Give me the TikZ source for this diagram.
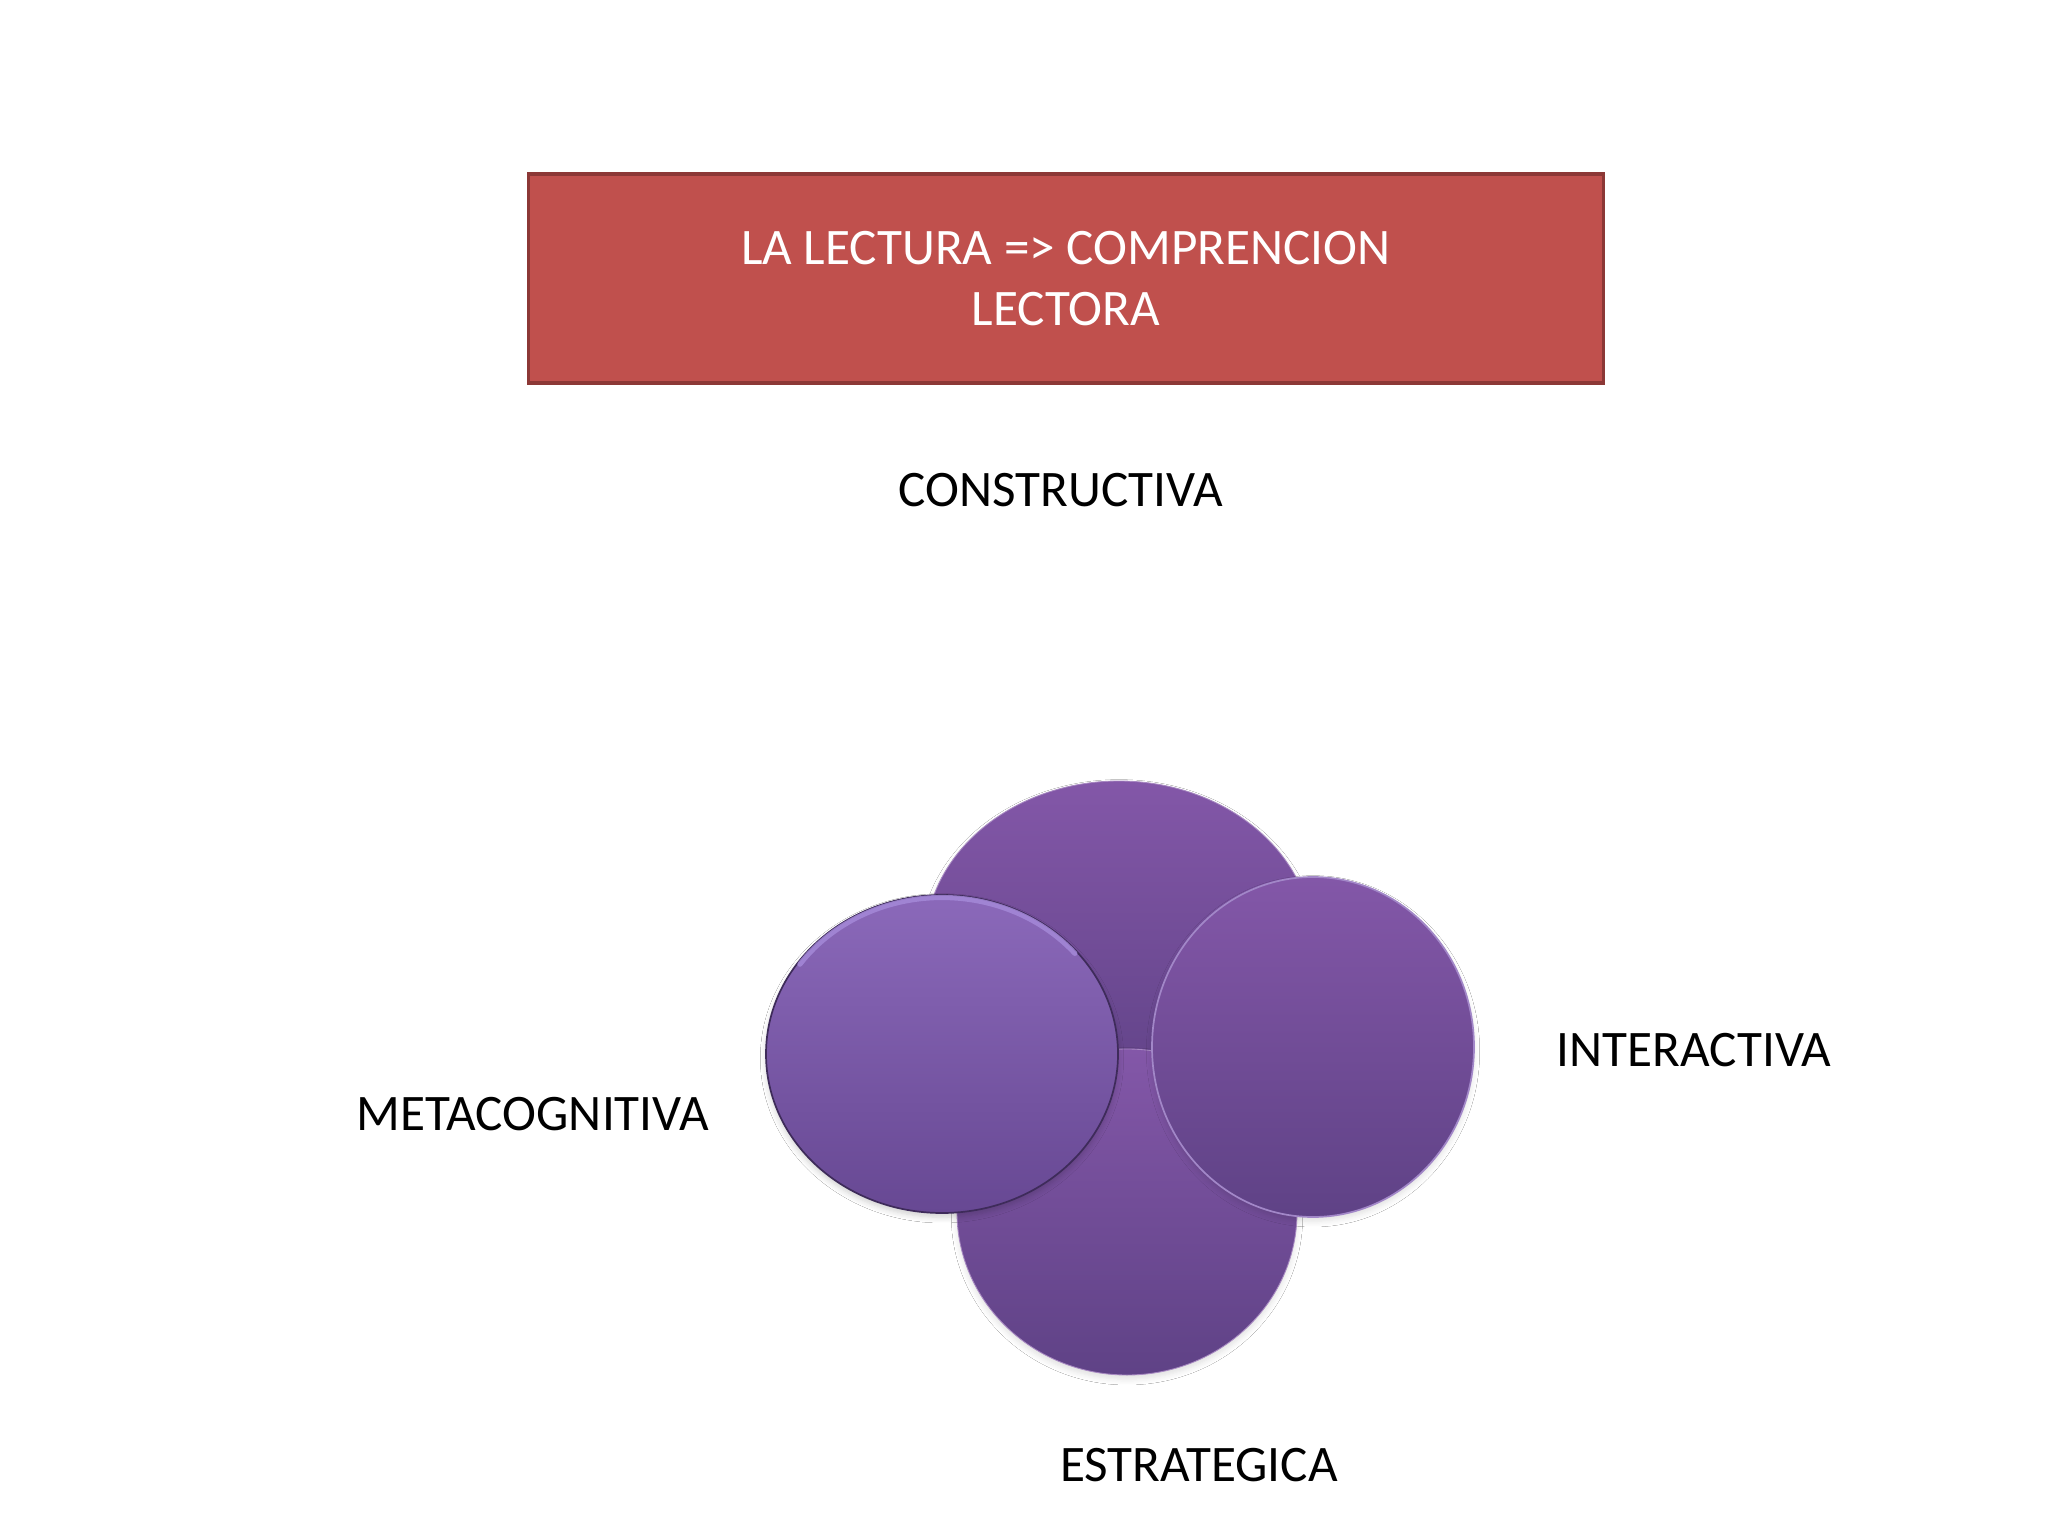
\documentclass[tikz,border=0pt]{standalone}
\usepackage{fontspec}
\setmainfont{Carlito}
\usetikzlibrary{shapes.geometric,shadows.blur}
\definecolor{bannerfill}{HTML}{C0504D}
\definecolor{bannerline}{HTML}{8C3836}
\definecolor{purpA}{HTML}{8357A8}
\definecolor{purpB}{HTML}{5F4286}
\definecolor{purpC}{HTML}{8B69BA}
\definecolor{purpD}{HTML}{674893}
\definecolor{rimlight}{HTML}{A68BDA}
\definecolor{rimdark}{HTML}{3E2B5A}
\newcommand{\pxu}{0.3515625pt}
\begin{document}
\begin{tikzpicture}[x=0.3515625pt, y=-0.3515625pt,
  lbl/.style={font=\fontsize{18}{21.6}\selectfont, text=black, inner sep=0pt},
  bannerbox/.style={rectangle, fill=bannerfill, draw=bannerline, line width=1.1pt,
    text=white, align=center, font=\fontsize{18}{21.6}\selectfont, inner sep=0pt},
  disc/.style={ellipse, inner sep=0pt, outer sep=0pt, top color=purpA, bottom color=purpB,
    blur shadow={shadow blur steps=6, shadow xshift=0pt, shadow yshift=-1.5pt, shadow opacity=12, shadow blur radius=2pt}},
  bevel/.style={ellipse, inner sep=0pt, outer sep=0pt, top color=purpC, bottom color=purpD,
    draw=rimdark, line width=0.6pt,
    blur shadow={shadow blur steps=6, shadow xshift=0pt, shadow yshift=-1.5pt, shadow opacity=18, shadow blur radius=2pt}},
  rim/.style={draw=rimlight, line width=1.8pt, line cap=round, opacity=0.8}
]
\useasboundingbox[fill=white] (0,0) rectangle (2048,1536);

% title banner
\node[bannerbox, minimum width={1075*\pxu}, minimum height={209*\pxu}] (title) at (1066,278.5)
  {LA LECTURA => COMPRENCION\\LECTORA};

% labels
\node[lbl] (constructiva) at (1061,490) {CONSTRUCTIVA};
\node[lbl] (metacognitiva) at (533,1114) {METACOGNITIVA};
\node[lbl] (interactiva) at (1694,1050) {INTERACTIVA};
\node[lbl] (estrategica) at (1199,1465) {ESTRATEGICA};

% circles
\node[disc, draw=purpA!70!white, line width=0.3pt, minimum width={388*\pxu}, minimum height={326*\pxu}] (ctop) at (1119,944) {};
\node[disc, draw=purpA!70!white, line width=0.3pt, minimum width={340*\pxu}, minimum height={326*\pxu}] (cbot) at (1127,1212) {};
\node[disc, draw=purpC!80!white, line width=0.6pt, minimum width={322*\pxu}, minimum height={340*\pxu}] (cright) at (1313,1047) {};
\node[bevel, minimum width={352*\pxu}, minimum height={318*\pxu}] (cleft) at (942,1054) {};
\draw[rim] ([shift={(145:{173.5*\pxu} and {156.5*\pxu})}]cleft.center)
  arc[start angle=145, end angle=40, x radius={173.5*\pxu}, y radius={156.5*\pxu}];
\end{tikzpicture}
\end{document}
